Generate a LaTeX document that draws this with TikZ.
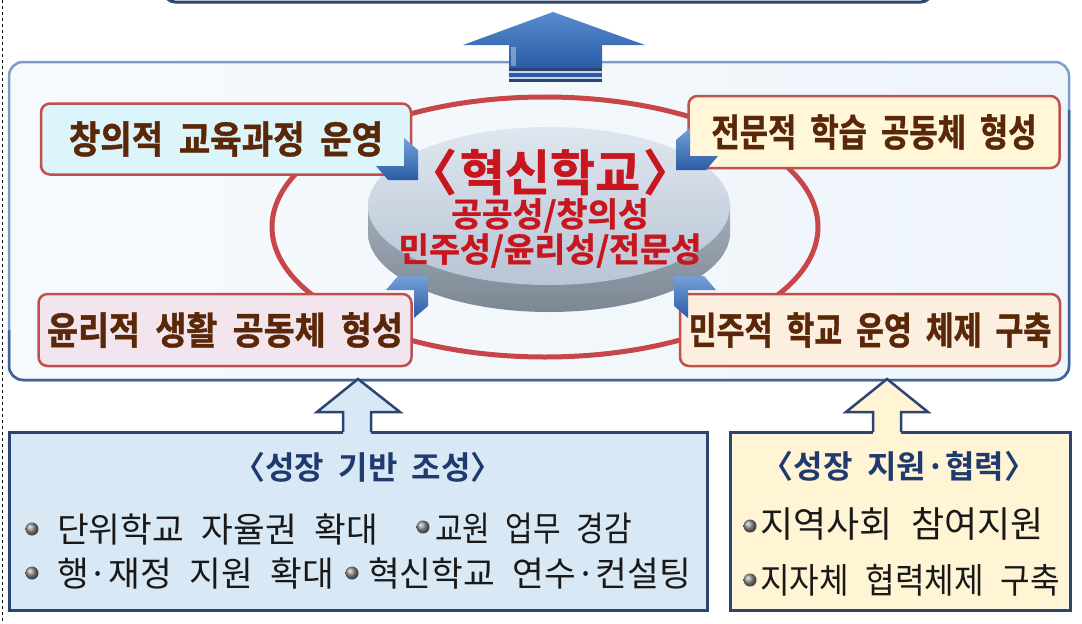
\documentclass[tikz,border=0pt]{standalone}
\usepackage{fontspec}
\setmainfont{Noto Sans CJK KR}
\newfontfamily\kr{Noto Sans CJK KR}[WordSpace=2.3]
\newfontfamily\krb{Noto Sans CJK KR Bold}[WordSpace=2.0]
\newfontfamily\krh{Noto Sans CJK KR Bold}[WordSpace=2.0, FakeBold=1.2]
\definecolor{navy}{HTML}{2C4472}
\definecolor{navytext}{HTML}{1F3A6E}
\definecolor{ringred}{HTML}{C8464A}
\definecolor{boxred}{HTML}{C0504D}
\definecolor{titlered}{HTML}{C8161E}
\definecolor{txtbrown}{HTML}{5A2808}
\definecolor{lbfill}{HTML}{D9E8F5}
\definecolor{rbfill}{HTML}{FFF4D4}
\definecolor{bonefill}{HTML}{DCF5FA}
\definecolor{btwofill}{HTML}{FFF7D8}
\definecolor{bthreefill}{HTML}{F2E5EE}
\definecolor{bfourfill}{HTML}{FDEFDF}
\definecolor{panelline}{HTML}{7C9DCB}
\definecolor{paneldark}{HTML}{3E639B}
\definecolor{arrblue}{HTML}{3A78C6}
\definecolor{arrdark}{HTML}{2A5CA6}
\definecolor{disktop}{HTML}{DFE6EF}
\definecolor{diskbot}{HTML}{B8C5D5}
\definecolor{sidetop}{HTML}{A3ADB9}
\definecolor{sidebot}{HTML}{7D8793}
\begin{document}
\begin{tikzpicture}[x=1pt,y=-1pt,
  kbox/.style={draw=boxred, line width=2.5pt, rounded corners=9pt, inner sep=0pt},
  ktext/.style={text=txtbrown, font=\krh\fontsize{38}{42}\selectfont, inner sep=0pt},
  btitle/.style={text=navytext, font=\krb\fontsize{32}{35}\selectfont, inner sep=0pt},
  bline/.style={text=black!90, font=\kr\fontsize{34.5}{38}\selectfont, inner sep=0pt, anchor=west},
  bullet/.style={ball color=black!45},
  chev/.style={top color=arrblue!70!white, bottom color=arrdark},
  outbox/.style={draw=navy, line width=3pt, inner sep=0pt}
]
\useasboundingbox (0,0) rectangle (1082,624);

% top box (bottom edge visible)
\draw[navy, line width=3pt, rounded corners=10pt, fill=white] (165,-40) rectangle (931,2);

% left dashed line
\draw[dash pattern=on 3pt off 3pt, line width=0.9pt] (2,0) -- (2,624);

% main panel
\draw[panelline, line width=2.5pt, rounded corners=14pt, left color=white!80!lbfill, right color=white!55!lbfill] (9,62) rectangle (1069,380);
\draw[paneldark, line width=2.5pt, rounded corners=14pt] (9,330) -- (9,380) -- (1069,380) -- (1069,110);

% top blue arrow
\shade[top color=arrblue!85!white, bottom color=arrdark] (553,12) -- (645,45) -- (602,45) -- (602,68) -- (509,68) -- (509,45) -- (463,45) -- cycle;
\fill[white, opacity=0.35] (511,47) rectangle (516,66);
\fill[navy] (509,68) rectangle (602,71);
\fill[white!70!arrblue] (509,71) rectangle (602,73);
\fill[arrdark] (509,73) rectangle (602,77);
\fill[white!70!arrblue] (509,77) rectangle (602,79);
\fill[navy] (509,79) rectangle (602,82);

% red ring
\draw[ringred, line width=5pt] (545,227) ellipse [x radius=273pt, y radius=130pt];

% disk
\shade[top color=sidetop, bottom color=sidebot] (368,206) -- (368,233) arc[start angle=180, end angle=360, x radius=181pt, y radius=79pt] -- (730,206) -- cycle;
\shade[top color=disktop, bottom color=diskbot] (549,206) ellipse [x radius=181pt, y radius=79pt];

\node[text=titlered, font=\krh\fontsize{49}{52}\selectfont, inner sep=0pt] (title) at (550,172) {〈\hspace{3pt}혁신학교\hspace{3pt}〉};
\node[text=titlered, font=\krh\fontsize{33.5}{34}\selectfont, inner sep=0pt, align=center] (values) at (550,233) {공공성/창의성\\민주성/윤리성/전문성};

% four boxes
\node[kbox, fill=bonefill, minimum width=370pt, minimum height=71pt] (b1) at (226,139) {};
\node[ktext] (t1) at (b1.center) {\scalebox{0.90}[1]{창의적 교육과정 운영}};
\node[kbox, fill=btwofill, minimum width=371pt, minimum height=72pt] (b2) at (874,132) {};
\node[ktext] (t2) at (b2.center) {\scalebox{0.81}[1]{전문적 학습 공동체 형성}};
\node[kbox, fill=bthreefill, minimum width=373pt, minimum height=72pt] (b3) at (225,330) {};
\node[ktext] (t3) at (b3.center) {\scalebox{0.887}[1]{윤리적 생활 공동체 형성}};
\node[kbox, fill=bfourfill, minimum width=380pt, minimum height=72pt] (b4) at (870,330) {};
\node[ktext] (t4) at (b4.center) {\scalebox{0.80}[1]{민주적 학교 운영 체제 구축}};

% chevrons
\begin{scope}[shift={(418,180)}]
  \shade[chev] (0,0) -- (0,-30) -- (-14,-42) -- (-14,-14) -- (-42,-14) -- (-30,0) -- cycle;
\end{scope}
\begin{scope}[shift={(676,170)}, xscale=-1]
  \shade[chev] (0,0) -- (0,-30) -- (-14,-42) -- (-14,-14) -- (-42,-14) -- (-30,0) -- cycle;
\end{scope}
\begin{scope}[shift={(428,276)}, yscale=-1]
  \shade[chev] (0,0) -- (0,-30) -- (-14,-42) -- (-14,-14) -- (-42,-14) -- (-30,0) -- cycle;
\end{scope}
\begin{scope}[shift={(674,276)}, xscale=-1, yscale=-1]
  \shade[chev] (0,0) -- (0,-30) -- (-14,-42) -- (-14,-14) -- (-42,-14) -- (-30,0) -- cycle;
\end{scope}

% bottom boxes
\node[outbox, fill=lbfill, minimum width=698pt, minimum height=178pt] (lbox) at (358,521) {};
\node[outbox, fill=rbfill, minimum width=340pt, minimum height=178pt] (rbox) at (900,521) {};

% hollow arrows
\fill[lbfill] (343,434) -- (343,412) -- (317,412) -- (358,379) -- (400,412) -- (371,412) -- (371,434) -- cycle;
\draw[navy, line width=2.5pt] (343,432) -- (343,412) -- (317,412) -- (358,379) -- (400,412) -- (371,412) -- (371,432);
\fill[rbfill] (873,434) -- (873,412) -- (846,412) -- (887,379) -- (928,412) -- (901,412) -- (901,434) -- cycle;
\draw[navy, line width=2.5pt] (873,432) -- (873,412) -- (846,412) -- (887,379) -- (928,412) -- (901,412) -- (901,432);

% left box texts
\node[btitle] (lt) at (368,467) {〈성장 기반 조성〉};
\shade[bullet] (32,529) circle (6.5pt);
\node[bline] (l1) at (57,529) {단위학교 자율권 확대};
\shade[bullet] (423,527) circle (6.5pt);
\node[bline] (l2) at (435,529) {\scalebox{0.87}[1]{교원 업무 경감}};
\shade[bullet] (32,573) circle (6.5pt);
\node[bline] (l3) at (57,573) {행·재정 지원 확대};
\shade[bullet] (352,573) circle (6.5pt);
\node[bline] (l4) at (368,573) {혁신학교 연수·컨설팅};

% right box texts
\node[btitle] (rt) at (899,466) {〈성장 지원·협력〉};
\shade[bullet] (750,526) circle (6.5pt);
\node[bline, font=\kr\fontsize{36}{40}\selectfont] (r1) at (760,524) {지역사회 참여지원};
\shade[bullet] (750,580) circle (6.5pt);
\node[bline, font=\kr\fontsize{35}{40}\selectfont] (r2) at (760,580) {\scalebox{0.92}[1]{지자체 협력체제 구축}};
\end{tikzpicture}
\end{document}
